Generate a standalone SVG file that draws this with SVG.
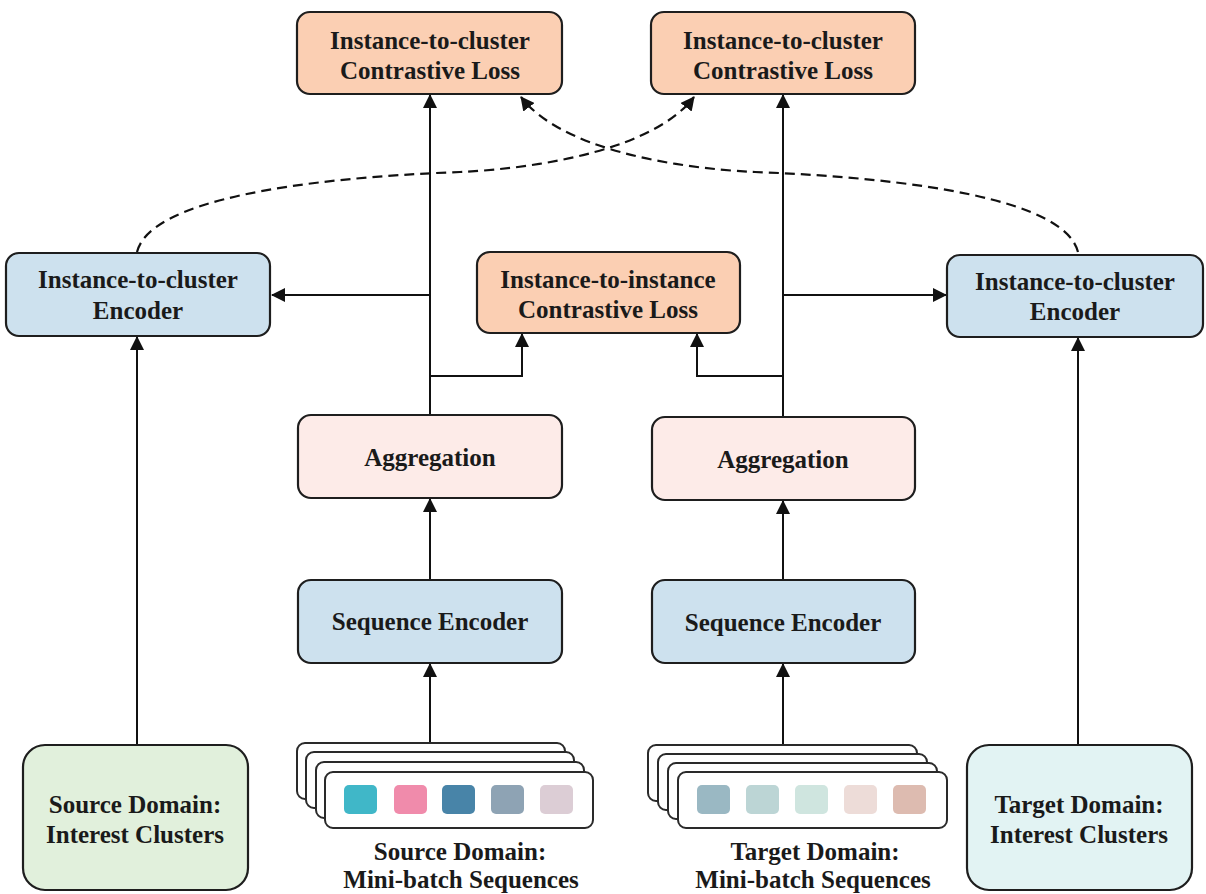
<svg xmlns="http://www.w3.org/2000/svg" width="1206" height="894" viewBox="0 0 1206 894">
<style>
.box{stroke:#1e1e1e;stroke-width:2.2}
.loss{fill:#fbcfb3}
.enc{fill:#cde1ee}
.agg{fill:#fdebe8}
.card{fill:#ffffff;stroke:#2a2a2a;stroke-width:2}
.t{font-family:"Liberation Serif","Times New Roman",serif;font-weight:bold;font-size:25px;fill:#1a1a1a;text-anchor:middle}
.ln{fill:none;stroke:#111;stroke-width:2}
.dash{fill:none;stroke:#111;stroke-width:2.2;stroke-dasharray:10 6}
</style>
<defs>
<marker id="ah" markerUnits="userSpaceOnUse" markerWidth="14" markerHeight="14" refX="13" refY="7" orient="auto" viewBox="0 0 14 14">
<path d="M0,0 L14,7 L0,14 z" fill="#111"/>
</marker>
</defs>
<rect width="1206" height="894" fill="#ffffff"/>

<g id="connectors">
<path class="ln" d="M430,415 V95" marker-end="url(#ah)"/>
<path class="ln" d="M783,417 V95" marker-end="url(#ah)"/>
<path class="ln" d="M430,295 H272" marker-end="url(#ah)"/>
<path class="ln" d="M783,295 H946" marker-end="url(#ah)"/>
<path class="ln" d="M430,376 H522 V334" marker-end="url(#ah)"/>
<path class="ln" d="M783,376 H697 V334" marker-end="url(#ah)"/>
<path class="ln" d="M430,580 V499" marker-end="url(#ah)"/>
<path class="ln" d="M783,580 V501" marker-end="url(#ah)"/>
<path class="ln" d="M430,743 V664" marker-end="url(#ah)"/>
<path class="ln" d="M783,745 V664" marker-end="url(#ah)"/>
<path class="ln" d="M137,745 V337" marker-end="url(#ah)"/>
<path class="ln" d="M1078,745 V338" marker-end="url(#ah)"/>
<path class="dash" d="M137,252 C150,200 300,178 460,172 C545,168 655,148 694,97" marker-end="url(#ah)"/>
<path class="dash" d="M1078,252 C1065,200 915,178 755,172 C670,168 560,148 521,97" marker-end="url(#ah)"/>
</g>

<g id="loss-top-left">
<rect class="box loss" x="297" y="12" width="265" height="82" rx="13"/>
<text class="t" x="430" y="49">Instance-to-cluster</text>
<text class="t" x="430" y="79">Contrastive Loss</text>
</g>
<g id="loss-top-right">
<rect class="box loss" x="651" y="12" width="264" height="82" rx="13"/>
<text class="t" x="783" y="49">Instance-to-cluster</text>
<text class="t" x="783" y="79">Contrastive Loss</text>
</g>
<g id="encoder-left">
<rect class="box enc" x="6" y="253" width="264" height="83" rx="13"/>
<text class="t" x="138" y="288">Instance-to-cluster</text>
<text class="t" x="138" y="319">Encoder</text>
</g>
<g id="encoder-right">
<rect class="box enc" x="947" y="255" width="256" height="82" rx="13"/>
<text class="t" x="1075" y="290">Instance-to-cluster</text>
<text class="t" x="1075" y="320">Encoder</text>
</g>
<g id="loss-middle">
<rect class="box loss" x="477" y="252" width="263" height="81" rx="13"/>
<text class="t" x="608" y="288">Instance-to-instance</text>
<text class="t" x="608" y="318">Contrastive Loss</text>
</g>
<g id="aggregation-left">
<rect class="box agg" x="298" y="415" width="264" height="83" rx="13"/>
<text class="t" x="430" y="466">Aggregation</text>
</g>
<g id="aggregation-right">
<rect class="box agg" x="652" y="417" width="263" height="83" rx="13"/>
<text class="t" x="783" y="468">Aggregation</text>
</g>
<g id="seqenc-left">
<rect class="box enc" x="298" y="580" width="264" height="83" rx="13"/>
<text class="t" x="430" y="630">Sequence Encoder</text>
</g>
<g id="seqenc-right">
<rect class="box enc" x="652" y="580" width="263" height="83" rx="13"/>
<text class="t" x="783" y="631">Sequence Encoder</text>
</g>
<g id="source-clusters">
<rect class="box" fill="#e1f0dc" x="23" y="745" width="225" height="145" rx="22"/>
<text class="t" x="135" y="813">Source Domain:</text>
<text class="t" x="135" y="843">Interest Clusters</text>
</g>
<g id="target-clusters">
<rect class="box" fill="#e2f3f3" x="967" y="745" width="225" height="145" rx="22"/>
<text class="t" x="1079" y="813">Target Domain:</text>
<text class="t" x="1079" y="843">Interest Clusters</text>
</g>
<g id="source-sequences">
<rect class="card" x="297" y="743" width="268" height="56" rx="8"/>
<rect class="card" x="306" y="752" width="268" height="56" rx="8"/>
<rect class="card" x="316" y="762" width="268" height="56" rx="8"/>
<rect class="card" x="325" y="772" width="268" height="56" rx="8"/>
<rect x="344" y="785" width="33" height="29" rx="5" fill="#40b7c8"/>
<rect x="394" y="785" width="33" height="29" rx="5" fill="#f08bab"/>
<rect x="442" y="785" width="33" height="29" rx="5" fill="#4884a8"/>
<rect x="491" y="785" width="33" height="29" rx="5" fill="#8ea3b4"/>
<rect x="540" y="785" width="33" height="29" rx="5" fill="#dccdd5"/>
<text class="t" x="460" y="860">Source Domain:</text>
<text class="t" x="461" y="888">Mini-batch Sequences</text>
</g>
<g id="target-sequences">
<rect class="card" x="648" y="745" width="269" height="56" rx="8"/>
<rect class="card" x="658" y="754" width="269" height="56" rx="8"/>
<rect class="card" x="668" y="763" width="269" height="56" rx="8"/>
<rect class="card" x="678" y="772" width="269" height="56" rx="8"/>
<rect x="697" y="785" width="33" height="29" rx="5" fill="#9ab8c3"/>
<rect x="746" y="785" width="33" height="29" rx="5" fill="#bcd5d5"/>
<rect x="795" y="785" width="33" height="29" rx="5" fill="#cfe5df"/>
<rect x="844" y="785" width="33" height="29" rx="5" fill="#eddcd8"/>
<rect x="893" y="785" width="33" height="29" rx="5" fill="#ddbbb0"/>
<text class="t" x="815" y="860">Target Domain:</text>
<text class="t" x="813" y="888">Mini-batch Sequences</text>
</g>
</svg>
